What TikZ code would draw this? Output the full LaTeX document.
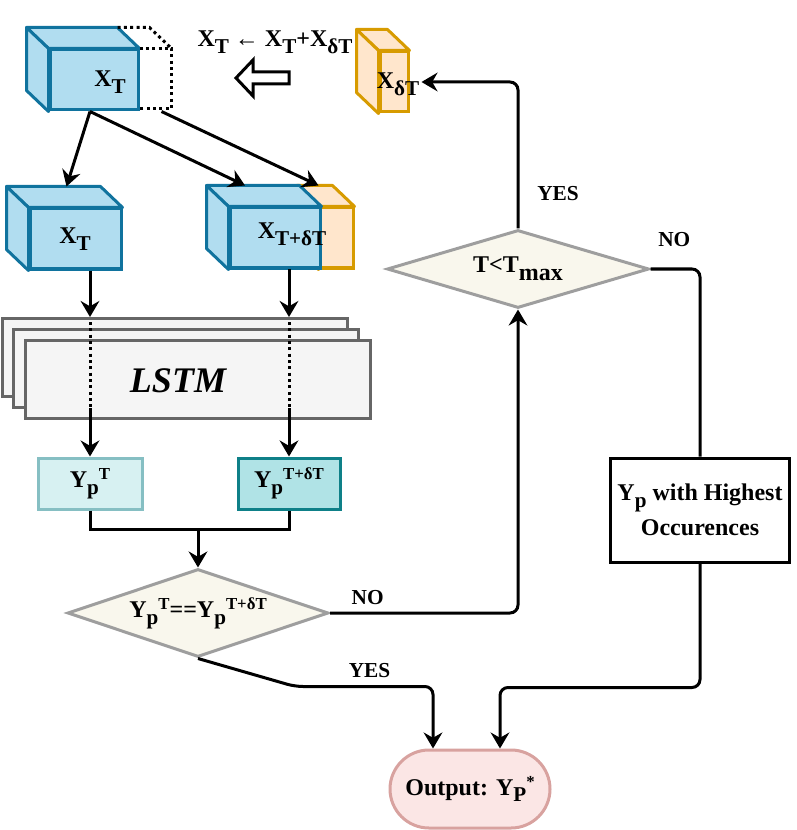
\documentclass[tikz,border=0pt]{standalone}
\usepackage{fontspec}
\setmainfont{Liberation Serif}
\usepackage{tikz}
\usetikzlibrary{ positioning, arrows.meta, calc, shapes.geometric, shapes.misc }
\usepackage{xcolor}
\definecolor{cubefill}{HTML}{B1DDF0}
\definecolor{cubeline}{HTML}{10739E}
\definecolor{extfill}{HTML}{FFE6CC}
\definecolor{extline}{HTML}{D79B00}
\definecolor{stackfill}{HTML}{F5F5F5}
\definecolor{stackline}{HTML}{666666}
\definecolor{ypfill}{HTML}{D7F1F2}
\definecolor{ypline}{HTML}{86BFC3}
\definecolor{ypdfill}{HTML}{B0E3E6}
\definecolor{ypdline}{HTML}{0E8088}
\definecolor{decfill}{HTML}{F9F7ED}
\definecolor{decline}{HTML}{9E9E9E}
\definecolor{outfill}{HTML}{FBE6E5}
\definecolor{outdraw}{HTML}{D8A29F}

\newcommand{\lowr}[1]{\raisebox{-0.6ex}{\scalebox{0.88}{#1}}}
\newcommand{\uppr}[1]{\raisebox{0.75ex}{\scalebox{0.7}{#1}}}
% top and left faces of a cube whose front face is the node #1
\newcommand{\cubefaces}[2]{%
  \draw[#2] (#1.north west) -- ++(-22,-21) -- ([shift={(-22,-21)}]#1.north east) -- (#1.north east) -- cycle;
  \draw[#2] (#1.north west) -- ++(-22,-21) -- ([shift={(-22,-21)}]#1.south west) -- (#1.south west) -- cycle;
}

\begin{document}
\begin{tikzpicture}[
  x=0.75pt, y=-0.75pt,
  every node/.style={font=\bfseries\fontsize{18pt}{21pt}\selectfont},
  cube/.style={rectangle, draw=cubeline, fill=cubefill, line width=2.25pt,
               minimum height=45pt, inner sep=0pt},
  cubeside/.style={draw=cubeline, fill=cubefill, line width=2.25pt, line join=round},
  ext/.style={rectangle, draw=extline, fill=extfill, line width=2.25pt,
              minimum height=45pt, inner sep=0pt},
  extside/.style={draw=extline, fill=extfill, line width=2.25pt, line join=round},
  ghost/.style={draw=black, line width=2.25pt, dash pattern=on 2.25pt off 2.5pt},
  stackbox/.style={rectangle, draw=stackline, fill=stackfill, line width=2.25pt,
                   minimum width=258.75pt, minimum height=58.5pt},
  ypbox/.style={rectangle, line width=2.25pt, minimum width=78pt,
                minimum height=38.25pt, inner sep=0pt},
  decision/.style={diamond, draw=decline, fill=decfill, line width=2.25pt,
                   aspect=3, inner sep=0pt},
  wire/.style={line width=2.25pt},
  arr/.style={-{Stealth[length=12pt, width=14pt, inset=4pt]}},
  tag/.style={font=\bfseries\fontsize{16pt}{18pt}\selectfont},
]
  \useasboundingbox (0,0) rectangle (796,830);

  % current window X_T with its extension
  \node[cube, minimum width=66pt] (xt) at (94,80) {};
  \cubefaces{xt}{cubeside}
  \draw[ghost] (xt.north east) -- ++(32,0) -- ++(0,60) -- ++(-32,0);
  \draw[ghost] ([shift={(-22,-21)}]xt.north east) -- ++(32,0) -- ++(22,21);
  \node (xt-l) at (110,82) {X\lowr{T}};

  % update rule
  \node (rule) at (275,42) {X\lowr{T} ← X\lowr{T}+X\lowr{δT}};
  \draw[line width=2.25pt, fill=white] (289,72) -- (253,72) -- (253,60) -- (236,78)
    -- (253,96) -- (253,84) -- (289,84) -- cycle;

  % increment X_dT
  \node[ext, minimum width=21pt] (xdt) at (394,82) {};
  \cubefaces{xdt}{extside}
  \node (xdt-l) at (398,84) {X\lowr{δT}};

  % the two windows
  \node[cube, minimum width=68.25pt] (xt1) at (75.5,239) {};
  \cubefaces{xt1}{cubeside}
  \node (xt1-l) at (75,239) {X\lowr{T}};
  \node[ext, minimum width=24.75pt] (xtdt-o) at (336.5,238) {};
  \cubefaces{xtdt-o}{extside}
  \node[cube, minimum width=67.5pt] (xtdt) at (275,238) {};
  \cubefaces{xtdt}{cubeside}
  \node (xtdt-l) at (292,234) {X\lowr{T+δT}};

  \draw[wire,arr] ([shift={(-4,0)}]xt.south) -- ([shift={(-9,-21)}]xt1.north);
  \draw[wire,arr] ([shift={(-4,0)}]xt.south) -- ([shift={(-30,-21)}]xtdt.north);
  \draw[wire,arr] ([shift={(22,0)}]xt.south east) -- ([shift={(-18,-21)}]xtdt-o.north);

  % LSTM stack
  \node[stackbox] (lstm1) at (174.5,357.5) {};
  \node[stackbox] (lstm2) at (186,368.5) {};
  \node[stackbox] (lstm3) at (197.5,379.5) {};
  \node[font=\bfseries\itshape\fontsize{27pt}{30pt}\selectfont] (lstm-l) at (178,381) {LSTM};

  % predictions
  \node[ypbox, draw=ypline, fill=ypfill] (yp1) at (90,483.5) {Y\lowr{p}\uppr{T}};
  \node[ypbox, draw=ypdline, fill=ypdfill, minimum width=76.5pt] (yp2) at (289,483.5)
    {Y\lowr{p}\uppr{T+δT}};

  \coordinate (d1) at (90,408);
  \coordinate (d2) at (289,408);
  \draw[wire,arr] (xt1.south -| yp1.north) -- (lstm1.north -| yp1.north);
  \draw[wire,arr] (xtdt.south -| yp2.north) -- (lstm1.north -| yp2.north);
  \draw[ghost] ([shift={(0,5)}]lstm1.north -| yp1.north) -- (d1);
  \draw[ghost] ([shift={(0,5)}]lstm1.north -| yp2.north) -- (d2);
  \draw[wire,arr] (d1) -- (yp1.north);
  \draw[wire,arr] (d2) -- (yp2.north);

  % tests
  \node[decision, minimum width=195.75pt, minimum height=66pt] (dec1) at (198,613)
    {Y\lowr{p}\uppr{T}==Y\lowr{p}\uppr{T+δT}};
  \node[decision, minimum width=196.5pt, minimum height=58.5pt] (dec2) at (518,269)
    {T<T\raisebox{-0.75ex}{max}};
  \node[rectangle, draw, line width=2.25pt, minimum width=134.25pt, minimum height=78pt,
        inner sep=0pt, align=center, font=\bfseries\fontsize{18pt}{26pt}\selectfont]
    (occ) at (700,510) {Y\lowr{p} with Highest\\Occurences};
  \node[rounded rectangle, draw=outdraw, fill=outfill, line width=2.25pt,
        minimum width=120pt, minimum height=58.5pt, inner sep=0pt]
    (out) at (470,789) {Output: Y\lowr{P}\uppr{*}};

  \draw[wire] (yp1.south) -- ++(0,19) coordinate (mrg) -| (yp2.south);
  \draw[wire,arr] (mrg -| dec1.north) -- (dec1.north);

  \draw[wire,arr,rounded corners=6pt] (dec1.east) -| node[tag, pos=0.1, above=2pt] {NO} (dec2.south);
  \draw[wire,arr,rounded corners=6pt] (dec2.north) |- node[tag, pos=0.12, right=10pt] {YES}
    ([shift={(12,0)}]xdt.east);
  \draw[wire,rounded corners=6pt] (dec2.east) -| node[tag, pos=0.24, above=12pt] {NO} (occ.north);
  \draw[wire,arr,rounded corners=6pt] (dec1.south) -- ++(97,28) -| node[tag, pos=0.27, above=2pt] {YES}
    ([shift={(-37,0)}]out.north);
  \draw[wire,arr,rounded corners=6pt] (occ.south) -- ++(0,124) -| ([shift={(30,0)}]out.north);
\end{tikzpicture}
\end{document}
